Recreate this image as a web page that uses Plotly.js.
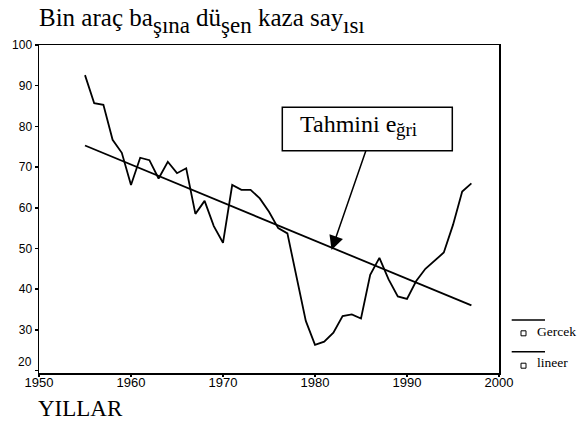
<!DOCTYPE html>
<html><head><meta charset="utf-8">
<script src="https://cdn.plot.ly/plotly-3.0.1.min.js"></script>
<style>body{margin:0;background:#fff}#chart{width:577px;height:434px}</style>
</head><body><div id="chart"></div>
<script>
// ---- data ----
const years = [1955,1956,1957,1958,1959,1960,1961,1962,1963,1964,
               1965,1966,1967,1968,1969,1970,1971,1972,1973,1974,
               1975,1976,1977,1978,1979,1980,1981,1982,1983,1984,
               1985,1986,1987,1988,1989,1990,1991,1992,1993,1994,
               1995,1996,1997];
const gercek = [92.6,85.7,85.3,76.7,73.5,65.6,72.3,71.7,67.2,71.3,
                68.5,69.7,58.5,61.7,55.5,51.4,65.6,64.4,64.4,62.3,
                59.0,55.0,53.7,42.5,32.2,26.3,27.1,29.3,33.4,33.8,
                32.8,43.5,47.7,42.4,38.2,37.6,42.0,45.0,46.9,49.0,
                55.8,64.0,66.0];
const lineerYears = [1955, 1997];
const lineer = [75.3, 36.0];
const xTicks = [1950,1960,1970,1980,1990,2000];
const yTicks = [20,30,40,50,60,70,80,90,100];
const titleParts = ["Bin araç ba","şına"," dü","şen"," kaza say","ısı"];
const titleLowered = [false,true,false,true,false,true];
const boxParts = ["Tahmini e","ğri"];
const boxLowered = [false,true];
const xLabel = "YILLAR";
const legendNames = ["Gercek","lineer"];
const arrowTip = {x:1981.8, y:49.6};

// ---- layout helpers ----
const L=39,T=45,W=460,H=328;
const px2x = p => (p-L)/W, py2y = p => 1-(p-T)/H;
const ctx = document.createElement('canvas').getContext('2d');
const SERIF = "Liberation Serif";
function textW(s,size){ctx.font = size+"px '"+SERIF+"'"; return ctx.measureText(s).width;}
function segAnnots(parts, lowered, startX, baseline, size, lowSize, shift){
  let cx = startX; const out=[];
  parts.forEach((p,i)=>{
    const s = lowered[i]?lowSize:size;
    const lead = p.match(/^\s*/)[0];
    cx += textW(lead,s);
    const t = p.trim();
    const b = baseline + (lowered[i]?shift:0);
    out.push({xref:'paper',yref:'paper',x:px2x(cx),y:py2y(b-0.3375*s),xanchor:'left',yanchor:'middle',
      text:t,showarrow:false,font:{family:SERIF,size:s,color:'#000'},borderpad:0,borderwidth:0});
    cx += textW(t,s);
  });
  return out;
}
const annotations = [];
annotations.push(...segAnnots(titleParts,titleLowered,39,26,25,23,7));
annotations.push(...segAnnots(boxParts,boxLowered,300,131.7,24,19,4.5));
annotations.push({xref:'paper',yref:'paper',x:px2x(38.3),y:py2y(416-0.3375*23),xanchor:'left',yanchor:'middle',
  text:xLabel,showarrow:false,font:{family:SERIF,size:23,color:'#000'},borderpad:0,borderwidth:0});
// lowest y tick label sits raised above the x labels, as in the original
annotations.push({xref:'paper',yref:'paper',x:px2x(32),y:py2y(362),xanchor:'right',yanchor:'middle',
  text:String(yTicks[0]),showarrow:false,font:{family:'Liberation Sans',size:12,color:'#000'},borderpad:0,borderwidth:0});
// arrow
annotations.push({xref:'x',yref:'y',x:arrowTip.x,y:arrowTip.y,text:' ',font:{size:1},showarrow:true,
  ax:34.3,ay:-99.3,arrowhead:2,arrowsize:1.9,arrowwidth:1.5,arrowcolor:'#000',standoff:0,startstandoff:0,borderpad:0,borderwidth:0});
// legend texts
const legY = [331.7, 362.3];
legendNames.forEach((n,i)=>annotations.push({xref:'paper',yref:'paper',x:px2x(536.7),y:py2y(legY[i]),xanchor:'left',yanchor:'middle',
  text:n,showarrow:false,font:{family:SERIF,size:13.5,color:'#000'},borderpad:0,borderwidth:0}));

const shapes = [
  {type:'rect',xref:'paper',yref:'paper',x0:px2x(282.3),x1:px2x(452.3),y0:py2y(150.7),y1:py2y(107.3),
   line:{color:'#000',width:1.5},fillcolor:'#fff'},
];
const legLineY = [320, 351.7], legSqY = [333.3, 365.7];
[0,1].forEach(i=>{
  shapes.push({type:'line',xref:'paper',yref:'paper',x0:px2x(511.7),x1:px2x(545),y0:py2y(legLineY[i]),y1:py2y(legLineY[i]),line:{color:'#000',width:1.5}});
  shapes.push({type:'rect',xref:'paper',yref:'paper',x0:px2x(521),x1:px2x(526),y0:py2y(legSqY[i]+2.5),y1:py2y(legSqY[i]-2.5),line:{color:'#000',width:1},fillcolor:'#fff'});
});

const traces = [
  {x:years,y:gercek,type:'scatter',mode:'lines',name:legendNames[0],line:{color:'#000',width:1.8},hoverinfo:'skip'},
  {x:lineerYears,y:lineer,type:'scatter',mode:'lines',name:legendNames[1],line:{color:'#000',width:1.8},hoverinfo:'skip'}
];
const axisCommon = {showline:true,mirror:true,linecolor:'#000',linewidth:1.5,showgrid:false,zeroline:false,
  ticks:'outside',ticklen:3,tickwidth:1.5,tickcolor:'#000'};
const layout = {
  width:577,height:434,margin:{l:L,r:577-L-W,t:T,b:434-T-H,pad:0},
  paper_bgcolor:'#fff',plot_bgcolor:'#fff',showlegend:false,
  xaxis:Object.assign({},axisCommon,{range:[1950,2000],tickvals:xTicks,ticktext:xTicks.map(String),ticklen:2,
    ticklabelstandoff:-5,tickfont:{family:'Liberation Sans',size:13,color:'#000'}}),
  yaxis:Object.assign({},axisCommon,{range:[19.4,100],tickvals:yTicks,
    ticktext:yTicks.map((v,i)=>i===0?'':String(v)),
    tickfont:{family:'Liberation Sans',size:12,color:'#000'}}),
  annotations:annotations,shapes:shapes
};
Plotly.newPlot('chart',traces,layout,{staticPlot:true,displayModeBar:false});
</script></body></html>
